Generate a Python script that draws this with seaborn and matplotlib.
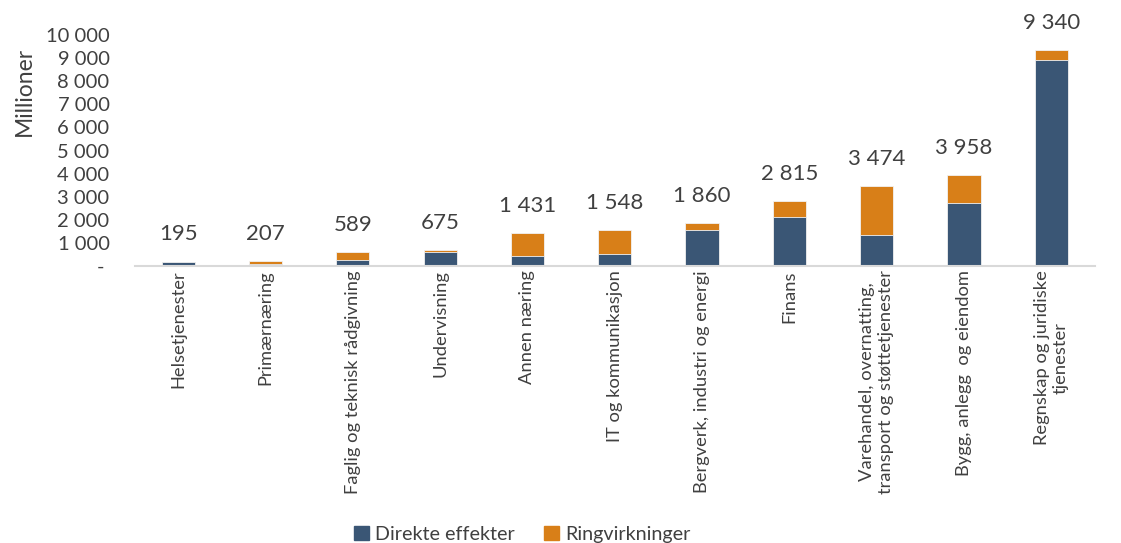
import pandas as pd
import matplotlib
matplotlib.use("Agg")
import matplotlib.pyplot as plt
import seaborn as sns
from matplotlib.patches import Patch
from matplotlib.ticker import FuncFormatter

sns.set_theme(style="white")
plt.rcParams["font.family"] = ["Lato", "DejaVu Sans"]

darkBlue = "#3a5675"
orange = "#d87f18"
textGray = "#404040"

categories = [
    "Helsetjenester",
    "Primærnæring",
    "Faglig og teknisk rådgivning",
    "Undervisning",
    "Annen næring",
    "IT og kommunikasjon",
    "Bergverk, industri og energi",
    "Finans",
    "Varehandel, overnatting,\ntransport og støttetjenester",
    "Bygg, anlegg  og eiendom",
    "Regnskap og juridiske\ntjenester",
]
direct = [170, 90, 270, 620, 430, 520, 1570, 2130, 1340, 2710, 8900]
totals = [195, 207, 589, 675, 1431, 1548, 1860, 2815, 3474, 3958, 9340]
yticks = [0, 1000, 2000, 3000, 4000, 5000, 6000, 7000, 8000, 9000, 10000]

df = pd.DataFrame({"category": categories, "direct": direct, "total": totals})

fig = plt.figure(figsize=(11.21, 5.43), dpi=100)
ax = fig.add_axes([0.12, 0.5101, 0.8568, 0.4254])

# total first (orange shows as Ringvirkninger), direct effects on top
sns.barplot(data=df, x="category", y="total", color=orange, width=0.38,
            saturation=1, edgecolor="#f2f2f2", linewidth=0.6, ax=ax)
sns.barplot(data=df, x="category", y="direct", color=darkBlue, width=0.38,
            saturation=1, edgecolor="#f2f2f2", linewidth=0.6, ax=ax)

def fmt(v):
    return f"{int(v):,}".replace(",", " ")

for i, t in enumerate(totals):
    ax.annotate(fmt(t), (i, t), xytext=(0, 19.5), textcoords="offset points",
                ha="center", va="center", fontsize=16, color=textGray,
                annotation_clip=False)

ax.set_ylim(0, 10000)
ax.set_xlim(-0.5, len(categories) - 0.5)
ax.set_yticks(yticks)
ax.yaxis.set_major_formatter(FuncFormatter(lambda v, p: "- " if v == 0 else fmt(v)))
ax.tick_params(axis="y", length=0, pad=18, labelsize=14.5, labelcolor=textGray)
ax.tick_params(axis="x", length=0, pad=3, labelsize=13.2, labelcolor=textGray)
plt.setp(ax.get_xticklabels(), rotation=90, va="top", ha="center",
         multialignment="center")

ax.set_xlabel("")
ax.set_ylabel("Millioner", fontsize=16.5, color=textGray)
ax.yaxis.set_label_coords(-0.104, 0.755)

sns.despine(ax=ax, left=True)
ax.spines["bottom"].set_color("#d9d9d9")
ax.spines["bottom"].set_linewidth(1.5)
ax.grid(False)

handles = [Patch(color=darkBlue, label="Direkte effekter"),
           Patch(color=orange, label="Ringvirkninger")]
fig.legend(handles=handles, loc="lower center", bbox_to_anchor=(0.466, -0.032),
           ncol=2, frameon=False, fontsize=14.2, handlelength=0.75,
           handleheight=0.75, handletextpad=0.3, columnspacing=1.5,
           labelcolor=textGray)

fig.savefig("out.png", dpi=100)
